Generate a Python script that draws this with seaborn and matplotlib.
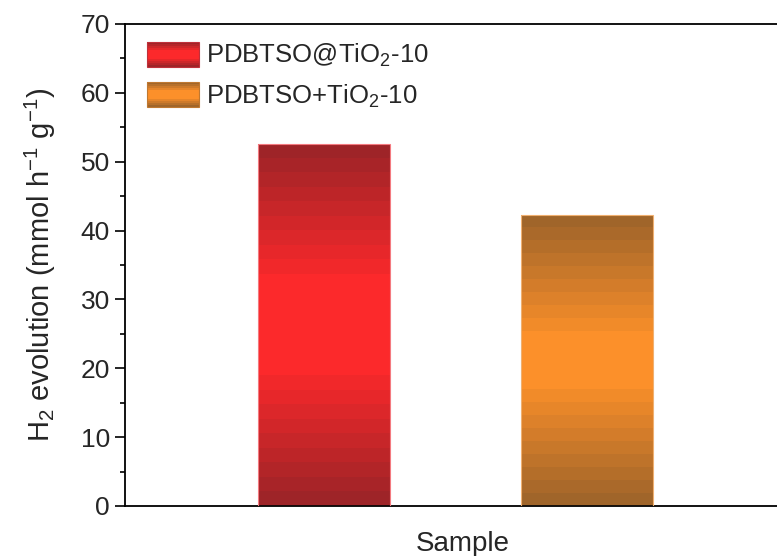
import numpy as np
import matplotlib
matplotlib.use("Agg")
import matplotlib.pyplot as plt
import matplotlib.colors as mcolors
from matplotlib.patches import Rectangle
from matplotlib.legend_handler import HandlerBase
import seaborn as sns

# Data
samples = ["PDBTSO@TiO$_2$-10", "PDBTSO+TiO$_2$-10"]
h2_rates = [52.6, 42.3]
bright_colors = ["#FC292B", "#FC902A"]
dark_colors = ["#9E2428", "#A0652A"]
edge_colors = ["#F47A80", "#F0B070"]
y_ticks = [0, 10, 20, 30, 40, 50, 60, 70]

sns.set_theme(style="ticks")
plt.rcParams["font.family"] = ["Liberation Sans", "DejaVu Sans"]
plt.rcParams["mathtext.fontset"] = "custom"
plt.rcParams["mathtext.rm"] = "Liberation Sans"
plt.rcParams["mathtext.it"] = "Liberation Sans:italic"
plt.rcParams["mathtext.bf"] = "Liberation Sans:bold"


def band_profile(n, levels=8, plateau=0.25):
    """Stepped blend weight toward the dark colour: 0 in the middle, 1 at both ends."""
    t = (np.arange(n) + 0.5) / n
    d = np.abs(t - 0.5) * 2
    f = np.clip((d - plateau) / (1 - plateau), 0, 1)
    return np.ceil(f * levels) / levels


def band_colors(bright, dark, n, levels=8, plateau=0.25):
    b = np.array(mcolors.to_rgb(bright))
    k = np.array(mcolors.to_rgb(dark))
    f = band_profile(n, levels, plateau)[:, None]
    return b * (1 - f) + k * f


fig = plt.figure(figsize=(7.77, 5.56), dpi=100)
ax = fig.add_axes([0.161, 0.090, 0.870, 0.867])

sns.barplot(x=samples, y=h2_rates, hue=samples, palette=bright_colors,
            width=0.5, legend=False, ax=ax, saturation=1)

# Replace flat fills with banded vertical gradients clipped to each bar
for patch, bright, dark, edge, plateau in zip(ax.patches, bright_colors, dark_colors,
                                              edge_colors, [0.28, 0.2]):
    x0, y0 = patch.get_x(), patch.get_y()
    w, h = patch.get_width(), patch.get_height()
    n = 400
    cols = band_colors(bright, dark, n, levels=9, plateau=plateau)
    img = np.repeat(cols[:, None, :], 2, axis=1)
    im = ax.imshow(img, extent=[x0, x0 + w, y0, y0 + h], origin="lower",
                   aspect="auto", interpolation="nearest", zorder=2)
    im.set_clip_path(patch)
    patch.set_facecolor("none")
    patch.set_edgecolor(edge)
    patch.set_linewidth(0.8)
    patch.set_zorder(3)


class GradientHandler(HandlerBase):
    def __init__(self, bright, dark, edge):
        super().__init__()
        self.bright, self.dark, self.edge = bright, dark, edge

    def create_artists(self, legend, orig_handle, xdescent, ydescent,
                       width, height, fontsize, trans):
        n = 12
        cols = band_colors(self.bright, self.dark, n, levels=4)
        arts = []
        for i, c in enumerate(cols):
            r = Rectangle((-xdescent, -ydescent + i * height / n), width, height / n,
                          facecolor=c, edgecolor="none", transform=trans)
            arts.append(r)
        border = Rectangle((-xdescent, -ydescent), width, height, facecolor="none",
                           edgecolor=self.edge, linewidth=0.8, transform=trans)
        arts.append(border)
        return arts


handles = [Rectangle((0, 0), 1, 1) for _ in samples]
handler_map = {h: GradientHandler(b, d, e) for h, b, d, e in
               zip(handles, bright_colors, dark_colors, ["#C0303A", "#C07830"])}
ax.legend(handles, samples, handler_map=handler_map, loc="upper left",
          frameon=False, fontsize=18.5, handlelength=2.0, handleheight=1.12,
          handletextpad=0.3, labelspacing=0.5, borderaxespad=0.3,
          bbox_to_anchor=(0.006, 1.0))

ax.set_xlim(-0.757, 1.814)
ax.set_ylim(0, 70)
ax.set_yticks(y_ticks)
ax.set_yticks(np.arange(5, 70, 10), minor=True)
ax.set_xticks([])
ax.tick_params(axis="y", which="major", direction="out", length=7, width=1.2,
               labelsize=19, color="black", pad=4)
ax.tick_params(axis="y", which="minor", direction="out", length=3.5, width=1.2,
               color="black")
ax.tick_params(axis="x", which="both", bottom=False, top=False)

for side in ["left", "bottom", "top"]:
    ax.spines[side].set_visible(True)
    ax.spines[side].set_color("black")
    ax.spines[side].set_linewidth(1.3)
ax.spines["right"].set_visible(False)

ax.set_xlabel("Sample", fontsize=20, labelpad=18)
ax.set_ylabel("H$_2$ evolution (mmol h$^{-1}$ g$^{-1}$)", fontsize=21, labelpad=16)

fig.savefig("out.png", dpi=100)
